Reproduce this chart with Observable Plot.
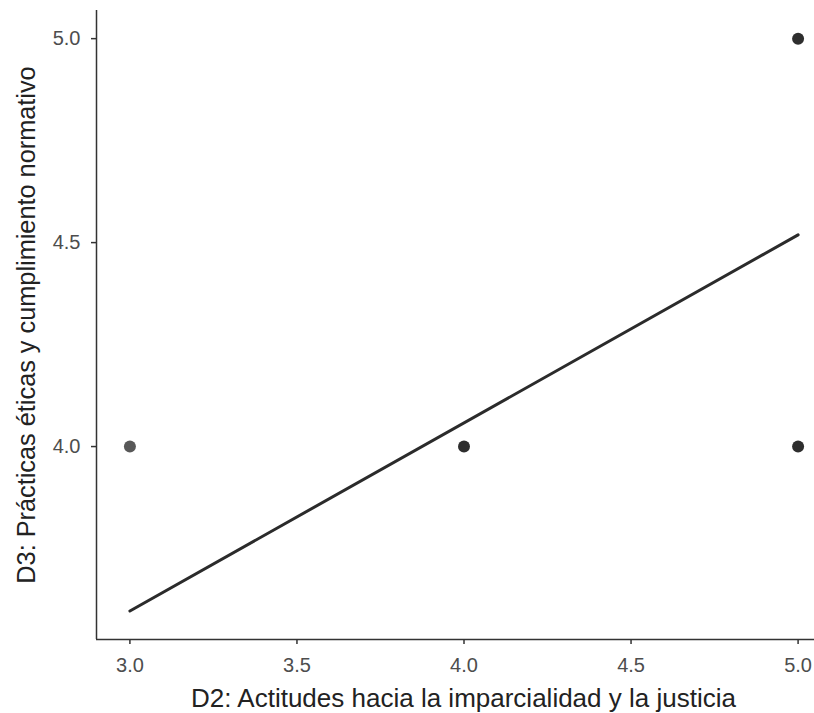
<!DOCTYPE html>
<html>
<head>
<meta charset="utf-8">
<script src="https://cdn.jsdelivr.net/npm/d3@7"></script>
<script src="https://cdn.jsdelivr.net/npm/@observablehq/plot@0.6"></script>
<style>
  html, body { margin: 0; padding: 0; background: #fff; }
  #chart svg { display: block; }
</style>
</head>
<body>
<div id="chart"></div>
<script>
// Observed (x, y) combinations and how many responses overlap there
const pointX = [3, 4, 5, 5];
const pointY = [4, 4, 4, 5];
const pointN = [1, 3, 2, 3];

// Fitted linear regression line (endpoints)
const fitX = [3, 5];
const fitY = [3.597, 4.519];

const xTicks = [3.0, 3.5, 4.0, 4.5, 5.0];
const yTicks = [4.0, 4.5, 5.0];

const xTitle = "D2: Actitudes hacia la imparcialidad y la justicia";
const yTitle = "D3: Prácticas éticas y cumplimiento normativo";

const points = pointX.map((x, i) => ({x, y: pointY[i], n: pointN[i]}));
const fit = fitX.map((x, i) => ({x, y: fitY[i]}));

const font = "'Liberation Sans', Arial, Helvetica, sans-serif";

const chart = Plot.plot({
  width: 814,
  height: 713,
  marginLeft: 96,
  marginRight: 0,
  marginTop: 10,
  marginBottom: 74,
  style: {fontFamily: font, background: "#fff"},
  x: {domain: [2.9, 5.1], range: [96, 831]},
  y: {domain: [3.527, 5.069]},
  marks: [
    Plot.axisX({ticks: xTicks, tickFormat: d3.format(".1f"), tickSize: 5, tickPadding: 13,
      fontSize: 20, color: "#4d4d4d", stroke: "#333", strokeWidth: 1.5, label: null}),
    Plot.axisY({ticks: yTicks, tickFormat: d3.format(".1f"), tickSize: 5, tickPadding: 11,
      fontSize: 20, color: "#4d4d4d", stroke: "#333", strokeWidth: 1.5, label: null}),
    Plot.ruleX([2.9], {stroke: "#333", strokeWidth: 1.5}),
    Plot.ruleY([3.527], {stroke: "#333", strokeWidth: 1.5}),
    Plot.line(fit, {x: "x", y: "y", stroke: "#2b2b2b", strokeWidth: 3}),
    Plot.dot(points, {x: "x", y: "y", r: 6, fill: "#2e2e2e", stroke: "none",
      fillOpacity: d => d.n > 1 ? 1 : 0.8}),
    Plot.text([xTitle], {frameAnchor: "bottom", textAnchor: "middle", dx: 8, dy: 59, fontSize: 26,
      fill: "#222", lineAnchor: "middle"}),
    Plot.text([yTitle], {frameAnchor: "left", textAnchor: "middle", rotate: -90, dx: -70, fontSize: 25.3,
      fill: "#222", lineAnchor: "middle"})
  ]
});
document.getElementById("chart").appendChild(chart);
</script>
</body>
</html>
